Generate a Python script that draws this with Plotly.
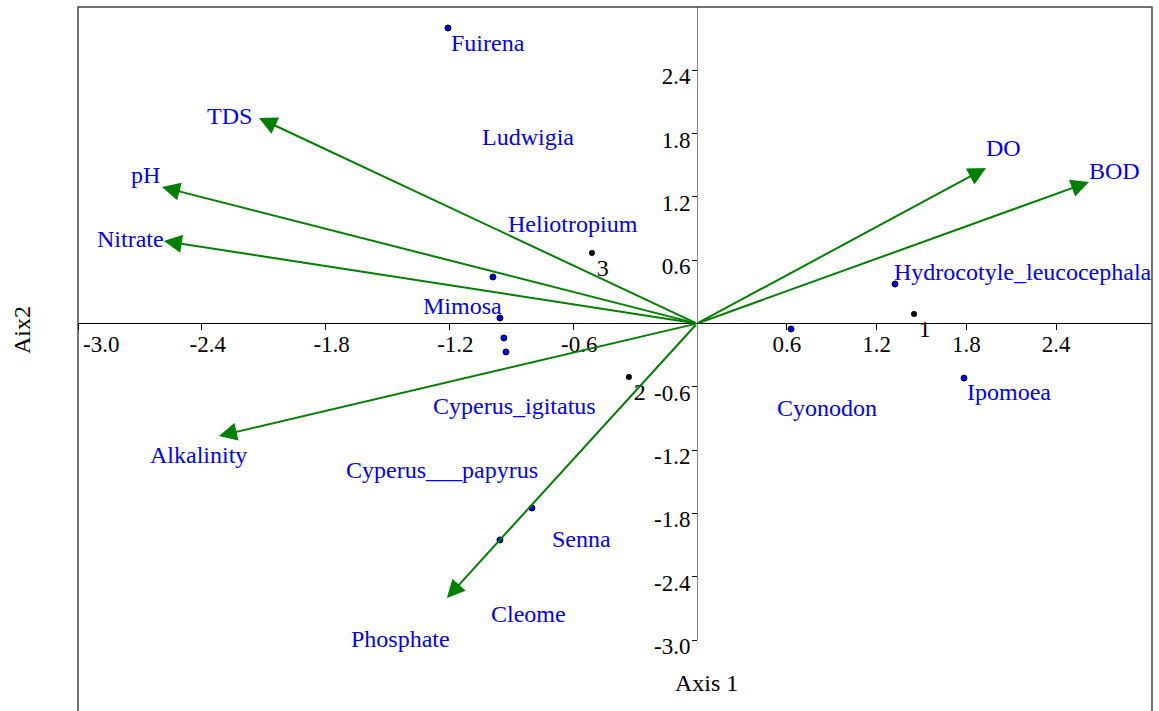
import plotly.graph_objects as go

# ---------------- data ----------------
# species scores (Axis 1, Axis 2)
species_x_neg = [-1.207, -0.989, -0.955, -0.936, -0.926, -0.800, -0.955]
species_y_neg = [2.801, 0.441, 0.052, -0.137, -0.270, -1.749, -2.052]
species_x_pos = [0.628, 1.323, 1.784]
species_y_pos = [-0.052, 0.374, -0.517]

# sample scores
sample_labels = ["1", "2", "3"]
sample_x = [1.450, -0.330, -0.509]
sample_y = [0.090, -0.507, 0.668]

# species labels and their anchor positions
species_names_neg = ["Fuirena", "Ludwigia", "Heliotropium", "Mimosa",
                     "Cyperus_igitatus", "Cyperus___papyrus", "Senna", "Cleome"]
species_lab_x_neg = [-1.192, -1.042, -0.916, -1.328, -1.280, -1.701, -0.703, -0.999]
species_lab_y_neg = [2.659, 1.768, 0.943, 0.166, -0.782, -1.389, -2.043, -2.754]
species_names_pos = ["Cyonodon", "Hydrocotyle_leucocephala", "Ipomoea"]
species_lab_x_pos = [0.534, 1.316, 1.804]
species_lab_y_pos = [-0.801, 0.488, -0.649]

# environmental vectors
env_names = ["TDS", "pH", "Nitrate", "Alkalinity", "Phosphate", "DO", "BOD"]
env_x = [-2.123, -2.593, -2.584, -2.317, -1.212, 1.931, 2.619]
env_y = [1.948, 1.294, 0.782, -1.066, -2.602, 1.474, 1.341]
env_lab_x = [-2.375, -2.744, -2.908, -2.651, -1.677, 1.931, 2.619]
env_lab_y = [1.967, 1.408, 0.801, -1.246, -2.991, 1.664, 1.445]

# ticks
xticks_neg = [-3.0, -2.4, -1.8, -1.2, -0.6]
xticks_pos = [0.6, 1.2, 1.8, 2.4]
yticks = [-3.0, -2.4, -1.8, -1.2, -0.6, 0.6, 1.2, 1.8, 2.4]

# ---------------- layout constants ----------------
W, H = 1159, 711
ML, MR, MT, MB = 78, 7, 7, 0
XNEG_RANGE = [-3.0, 0.0]
XPOS_RANGE = [0.0, 3.04]
Y_RANGE = [-3.673, 3.0]
X0_FRAC = 0.57635
Y0_FRAC = (0 - Y_RANGE[0]) / (Y_RANGE[1] - Y_RANGE[0])

FONT = "Liberation Serif"
BLUE = "#0000FF"
GREEN = "#008000"
LABEL_SIZE = 24
TICK_SIZE = 23
tickfont = dict(family=FONT, size=TICK_SIZE, color="black")

fig = go.Figure()

# species points
fig.add_trace(go.Scatter(x=species_x_neg, y=species_y_neg, mode="markers",
                         xaxis="x", yaxis="y",
                         marker=dict(size=6, color=BLUE, line=dict(color="black", width=1)),
                         hoverinfo="skip", showlegend=False))
fig.add_trace(go.Scatter(x=species_x_pos, y=species_y_pos, mode="markers",
                         xaxis="x2", yaxis="y",
                         marker=dict(size=6, color=BLUE, line=dict(color="black", width=1)),
                         hoverinfo="skip", showlegend=False))

# samples
neg_idx = [i for i, v in enumerate(sample_x) if v < 0]
pos_idx = [i for i, v in enumerate(sample_x) if v >= 0]
for idx, ax in ((neg_idx, "x"), (pos_idx, "x2")):
    fig.add_trace(go.Scatter(x=[sample_x[i] for i in idx], y=[sample_y[i] for i in idx],
                             text=[sample_labels[i] for i in idx],
                             mode="markers+text", textposition="bottom right",
                             textfont=dict(family=FONT, size=LABEL_SIZE, color="black"),
                             xaxis=ax, yaxis="y",
                             marker=dict(size=6, color="black"),
                             hoverinfo="skip", showlegend=False))

annotations = []
# environmental arrows
for name, ex, ey in zip(env_names, env_x, env_y):
    xr = "x" if ex < 0 else "x2"
    annotations.append(dict(x=ex, y=ey, ax=0, ay=0, xref=xr, yref="y",
                            axref=xr, ayref="y", text="", showarrow=True,
                            arrowhead=2, arrowsize=1.8, arrowwidth=2,
                            arrowcolor=GREEN, standoff=0))


def label(x, y, xref, text):
    return dict(x=x, y=y, xref=xref, yref="y", text=text, showarrow=False,
                xanchor="left", yanchor="middle", xshift=-2,
                font=dict(family=FONT, size=LABEL_SIZE, color=BLUE))


for name, lx, ly in zip(env_names, env_lab_x, env_lab_y):
    annotations.append(label(lx, ly, "x" if lx < 0 else "x2", name))
for name, lx, ly in zip(species_names_neg, species_lab_x_neg, species_lab_y_neg):
    annotations.append(label(lx, ly, "x", name))
for name, lx, ly in zip(species_names_pos, species_lab_x_pos, species_lab_y_pos):
    annotations.append(label(lx, ly, "x2", name))

PW, PH = W - ML - MR, H - MT - MB
# axis titles
annotations.append(dict(x=(706 - ML) / PW, y=1 - (683 - MT) / PH,
                        xref="paper", yref="paper", text="Axis 1", showarrow=False,
                        xanchor="center", yanchor="middle",
                        font=dict(family=FONT, size=LABEL_SIZE, color="black")))
annotations.append(dict(x=(22 - ML) / PW, y=1 - (330 - MT) / PH,
                        xref="paper", yref="paper", text="Aix2", showarrow=False,
                        textangle=-90, xanchor="center", yanchor="middle",
                        font=dict(family=FONT, size=LABEL_SIZE, color="black")))
# leftmost tick label sits just inside the frame
annotations.append(dict(x=xticks_neg[0], y=0, xref="x", yref="y",
                        text=f"{xticks_neg[0]:.1f}", showarrow=False,
                        xanchor="left", yanchor="top", xshift=3, yshift=-6,
                        font=tickfont))

shapes = [
    # frame
    dict(type="rect", xref="paper", yref="paper", x0=0, x1=1, y0=-0.05, y1=1,
         line=dict(color="#444444", width=1.5), layer="below"),
    # vertical axis line
    dict(type="line", xref="x2", yref="y", x0=0, x1=0, y0=yticks[0], y1=Y_RANGE[1],
         line=dict(color="black", width=1)),
]

xneg_text = [""] + [f"{v:.1f}" for v in xticks_neg[1:]]
fig.update_layout(
    width=W, height=H,
    margin=dict(l=ML, r=MR, t=MT, b=MB),
    paper_bgcolor="white", plot_bgcolor="white",
    font=dict(family=FONT),
    showlegend=False,
    xaxis=dict(domain=[0, X0_FRAC], range=XNEG_RANGE, anchor="free", position=Y0_FRAC,
               showline=True, linecolor="black", linewidth=1, showgrid=False,
               zeroline=False, ticks="outside", ticklen=6, tickcolor="black",
               tickvals=xticks_neg, ticktext=xneg_text,
               tickfont=tickfont, ticklabelshift=6, ticklabelstandoff=-6),
    xaxis2=dict(domain=[X0_FRAC, 1], range=XPOS_RANGE, anchor="free", position=Y0_FRAC,
                showline=True, linecolor="black", linewidth=1, showgrid=False,
                zeroline=False, ticks="outside", ticklen=6, tickcolor="black",
                tickvals=xticks_pos, ticktext=[f"{v:.1f}" for v in xticks_pos],
                tickfont=tickfont, ticklabelstandoff=-6),
    yaxis=dict(domain=[0, 1], range=Y_RANGE, anchor="free", position=X0_FRAC,
               showline=False, showgrid=False, zeroline=False,
               ticks="outside", ticklen=5, tickcolor="black",
               tickvals=yticks, ticktext=[f"{v:.1f}" for v in yticks],
               tickfont=tickfont, ticklabelshift=6, ticklabelstandoff=-3),
    annotations=annotations,
    shapes=shapes,
)

fig.write_html("out.html", config={"displayModeBar": False},
               post_script="document.body.style.margin='0';")
